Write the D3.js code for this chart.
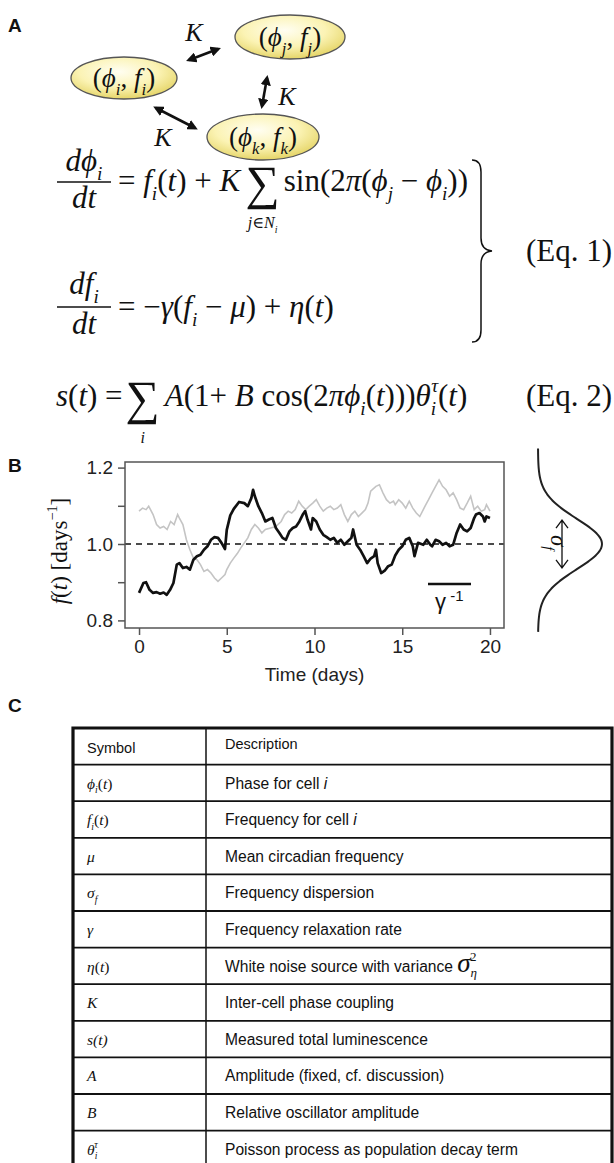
<!DOCTYPE html>
<html>
<head>
<meta charset="utf-8">
<script src="https://cdn.jsdelivr.net/npm/d3@7"></script>
<style>
  body { margin: 0; background: #fff; }
  svg { display: block; }
</style>
</head>
<body>
<svg id="fig" width="614" height="1163"></svg>
<script>
const width = 614
const height = 1163

const serif = "'Liberation Serif','Times New Roman','DejaVu Serif',serif"
const sans = "'Liberation Sans',Arial,Helvetica,sans-serif"

// panel B data (time in days, frequency in days^-1)
const blackSeries = [
  [0,0.872],[0.25,0.898],[0.4,0.9],[0.6,0.88],[0.8,0.872],[1.0,0.874],[1.2,0.87],[1.4,0.873],[1.58,0.867],
  [1.77,0.88],[1.96,0.898],[2.15,0.946],[2.3,0.95],[2.5,0.937],[2.7,0.94],[2.9,0.933],[3.1,0.959],
  [3.3,0.968],[3.5,0.972],[3.7,0.985],[3.9,0.994],[4.1,1.011],[4.3,1.018],[4.5,1.016],[4.7,1.003],
  [4.9,0.987],[5.0,1.037],[5.2,1.075],[5.4,1.092],[5.7,1.11],[6.0,1.107],[6.2,1.099],[6.4,1.12],
  [6.5,1.142],[6.6,1.125],[6.8,1.099],[7.0,1.081],[7.2,1.059],[7.4,1.064],[7.6,1.068],[7.8,1.042],
  [8.0,1.029],[8.18,1.016],[8.37,1.011],[8.57,1.033],[8.76,1.042],[8.95,1.046],[9.14,1.059],
  [9.33,1.077],[9.47,1.086],[9.6,1.064],[9.8,1.038],[9.9,1.068],[10.1,1.059],[10.3,1.038],
  [10.5,1.024],[10.7,1.018],[10.9,1.011],[11.1,1.016],[11.3,1.003],[11.5,1.011],[11.7,0.998],
  [11.9,1.007],[12.1,1.016],[12.2,1.038],[12.4,0.998],[12.6,0.985],[12.8,0.968],[13.0,0.95],
  [13.2,0.962],[13.4,0.968],[13.5,0.985],[13.6,0.95],[13.8,0.924],[14.0,0.93],[14.2,0.942],
  [14.4,0.946],[14.6,0.97],[14.8,0.985],[15.0,0.994],[15.2,1.011],[15.4,1.016],[15.6,0.994],
  [15.7,0.968],[15.9,1.003],[16.2,0.998],[16.4,1.011],[16.6,0.998],[16.7,0.994],[16.9,1.011],
  [17.1,1.007],[17.3,0.998],[17.5,1.003],[17.7,0.994],[17.9,0.998],[18.1,1.029],[18.3,1.051],
  [18.5,1.038],[18.7,1.033],[18.9,1.042],[19.1,1.068],[19.2,1.077],[19.4,1.081],[19.6,1.072],
  [19.7,1.059],[19.8,1.072],[20.0,1.068]
]

const graySeries = [
  [0,1.086],[0.2,1.094],[0.4,1.09],[0.55,1.099],[0.8,1.077],[1.0,1.051],[1.2,1.042],[1.4,1.046],
  [1.6,1.038],[1.8,1.059],[2.0,1.051],[2.2,1.077],[2.3,1.068],[2.5,1.051],[2.7,1.011],[2.9,0.985],
  [3.1,0.963],[3.3,0.959],[3.5,0.946],[3.7,0.928],[3.9,0.933],[4.1,0.924],[4.3,0.911],[4.5,0.902],
  [4.7,0.911],[4.9,0.92],[5.0,0.933],[5.2,0.95],[5.4,0.963],[5.6,0.975],[5.8,0.99],[6.0,1.003],
  [6.2,1.016],[6.4,1.038],[6.6,1.051],[6.8,1.042],[7.0,1.029],[7.2,1.038],[7.5,1.042],[7.8,1.046],
  [8.1,1.059],[8.3,1.077],[8.5,1.086],[8.7,1.081],[8.9,1.09],[9.1,1.112],[9.3,1.099],[9.5,1.09],
  [9.7,1.099],[9.9,1.107],[10.1,1.116],[10.3,1.099],[10.5,1.086],[10.7,1.094],[10.9,1.099],
  [11.1,1.09],[11.3,1.094],[11.5,1.103],[11.7,1.077],[11.9,1.059],[12.1,1.077],[12.3,1.086],
  [12.5,1.072],[12.7,1.081],[12.9,1.09],[13.05,1.107],[13.2,1.138],[13.5,1.151],[13.7,1.155],
  [13.9,1.134],[14.1,1.116],[14.3,1.107],[14.5,1.112],[14.6,1.103],[14.8,1.116],[15.0,1.107],
  [15.2,1.094],[15.4,1.112],[15.6,1.094],[15.8,1.081],[16.0,1.072],[16.2,1.09],[16.3,1.099],
  [16.5,1.116],[16.7,1.134],[16.9,1.151],[17.1,1.168],[17.3,1.151],[17.5,1.142],[17.7,1.125],
  [17.9,1.134],[18.1,1.116],[18.3,1.094],[18.5,1.09],[18.7,1.107],[18.9,1.125],[19.1,1.09],
  [19.3,1.099],[19.5,1.086],[19.7,1.09],[19.8,1.103],[20.0,1.086]
]

const xTicks = [0, 5, 10, 15, 20]
const yTicks = [0.8, 0.9, 1.0, 1.1, 1.2]
const yTickLabels = [0.8, 1.0, 1.2]

// schematic distribution on the right of panel B
const gaussMu = 1.0
const gaussSigma = 0.066
const gaussRange = [0.77, 1.25]

// panel C table
const tableHeader = ["Symbol", "Description"]
const tableSymbols = [
  [["ϕ","i"],["i","ib"],["(",""],["t","i"],[")",""]],
  [["f","i"],["i","ib"],["(",""],["t","i"],[")",""]],
  [["μ","i"]],
  [["σ","i"],["f","ib"]],
  [["γ","i"]],
  [["η","i"],["(",""],["t","i"],[")",""]],
  [["K","i"]],
  [["s(t)","i"]],
  [["A","i"]],
  [["B","i"]],
  [["θ","i"],["i","ib"],["τ","ip",{dx:-3}]]
]
const tableDescriptions = [
  [["Phase for cell ",""],["i","i"]],
  [["Frequency for cell ",""],["i","i"]],
  [["Mean circadian frequency",""]],
  [["Frequency dispersion",""]],
  [["Frequency relaxation rate",""]],
  [["White noise source with variance  ",""],["σ","si",{size:27}],["η","si",{size:13,shift:5}],["2","s",{size:13,shift:-11,dx:-7}]],
  [["Inter-cell phase coupling",""]],
  [["Measured total luminescence",""]],
  [["Amplitude (fixed, cf. discussion)",""]],
  [["Relative oscillator amplitude",""]],
  [["Poisson process as population decay term",""]]
]

const svg = d3.select("#fig")

// text with italic / sub / sup pieces; flags: i italic, b sub, p sup, s serif
function mtext(sel, x, y, size, parts, opts = {}) {
  const t = sel.append("text")
    .attr("x", x).attr("y", y)
    .attr("font-family", opts.family || serif)
    .attr("font-size", size)
    .attr("text-anchor", opts.anchor || "start")
    .attr("fill", opts.fill || "#111")
  let shift = 0
  parts.forEach(([str, f = "", extra = {}]) => {
    let target = 0, fs = size
    if (f.includes("b")) { target = size * 0.3; fs = size * 0.62 }
    if (f.includes("p")) { target = -size * 0.45; fs = size * 0.62 }
    if (extra.shift !== undefined) target = extra.shift
    const s = t.append("tspan").text(str)
      .attr("dy", target - shift)
      .attr("font-size", extra.size || fs)
    if (f.includes("i")) s.attr("font-style", "italic")
    if (f.includes("s")) s.attr("font-family", serif)
    if (extra.dx) s.attr("dx", extra.dx)
    shift = target
  })
  return t
}

function label(txt, x, y) {
  svg.append("text").attr("x", x).attr("y", y)
    .attr("font-family", sans).attr("font-weight", "bold")
    .attr("font-size", 19).attr("fill", "#111").text(txt)
}

// ---------- panel A ----------
label("A", 8, 32)

const defs = svg.append("defs")
const grad = defs.append("radialGradient").attr("id", "cellFill")
  .attr("cx", "45%").attr("cy", "35%").attr("r", "68%")
grad.append("stop").attr("offset", "0%").attr("stop-color", "#fffef2")
grad.append("stop").attr("offset", "55%").attr("stop-color", "#fbf3b4")
grad.append("stop").attr("offset", "100%").attr("stop-color", "#e3d260")

defs.append("marker").attr("id", "head")
  .attr("viewBox", "0 0 10 10").attr("refX", 7).attr("refY", 5)
  .attr("markerWidth", 4).attr("markerHeight", 4)
  .attr("orient", "auto-start-reverse")
  .append("path").attr("d", "M0,0 L10,5 L0,10 z").attr("fill", "#111")

const cells = [
  {cx: 124, cy: 78, rx: 53, ry: 21, s: "i"},
  {cx: 290, cy: 37, rx: 55, ry: 22, s: "j"},
  {cx: 263, cy: 137, rx: 56, ry: 23, s: "k"}
]
cells.forEach(c => {
  svg.append("ellipse").attr("cx", c.cx).attr("cy", c.cy)
    .attr("rx", c.rx).attr("ry", c.ry)
    .attr("fill", "url(#cellFill)").attr("stroke", "#555").attr("stroke-width", 1.3)
  mtext(svg, c.cx, c.cy + 9, 27,
    [["(",""],["ϕ","i"],[c.s,"ib"],[", ",""],["f","i"],[c.s,"ib"],[")",""]],
    {anchor: "middle"})
})

const links = [
  {x1: 189, y1: 60, x2: 218, y2: 49, kx: 194, ky: 41},
  {x1: 267, y1: 78, x2: 262, y2: 106, kx: 287, ky: 105},
  {x1: 156, y1: 108, x2: 195, y2: 128, kx: 163, ky: 146}
]
links.forEach(l => {
  svg.append("line").attr("x1", l.x1).attr("y1", l.y1).attr("x2", l.x2).attr("y2", l.y2)
    .attr("stroke", "#111").attr("stroke-width", 2.6)
    .attr("marker-start", "url(#head)").attr("marker-end", "url(#head)")
  mtext(svg, l.kx, l.ky, 26, [["K","i"]], {anchor: "middle"})
})

// ---------- equations ----------
const eqSize = 31

function fraction(cx, yNum, yBar, yDen, num, den, w) {
  mtext(svg, cx, yNum, eqSize, num, {anchor: "middle"})
  svg.append("line").attr("x1", cx - w / 2).attr("x2", cx + w / 2)
    .attr("y1", yBar).attr("y2", yBar).attr("stroke", "#111").attr("stroke-width", 1.6)
  mtext(svg, cx, yDen, eqSize, den, {anchor: "middle"})
}

function bigSum(x, y, under) {
  const s = svg.append("text").attr("x", x).attr("y", y + 8)
    .attr("font-family", serif).attr("font-size", eqSize * 1.55).attr("fill", "#111").text("∑")
  const w = s.node().getBBox().width
  mtext(svg, x + w / 2, y + 37, 16, under, {anchor: "middle"})
  return w
}

// Eq. 1, first line
fraction(84, 171, 182, 208, [["d","i"],["ϕ","i"],["i","ib"]], [["dt","i"]], 54)
let ex = 118
let t1 = mtext(svg, ex, 191, eqSize,
  [["= ",""],["f","i"],["i","ib"],["(",""],["t","i"],[") + ",""],["K","i"]])
ex += t1.node().getBBox().width + 3
ex += bigSum(ex, 191, [["j","i"],["∈",""],["N","i"],["i","ib"]]) + 4
mtext(svg, ex, 191, eqSize,
  [["sin(2",""],["π","i"],["(",""],["ϕ","i"],["j","ib"],[" − ",""],["ϕ","i"],["i","ib"],["))",""]])

// Eq. 1, second line
fraction(84, 294, 307, 334, [["df","i"],["i","ib"]], [["dt","i"]], 54)
mtext(svg, 118, 317, eqSize,
  [["= −",""],["γ","i"],["(",""],["f","i"],["i","ib"],[" − ",""],["μ","i"],[") + ",""],["η","i"],["(",""],["t","i"],[")",""]])

// brace and label
svg.append("path")
  .attr("d", "M472,160 Q481,160 481,172 L481,238 Q481,250 492,251 Q481,252 481,264 L481,330 Q481,342 472,342")
  .attr("fill", "none").attr("stroke", "#111").attr("stroke-width", 1.5)
mtext(svg, 612, 261, eqSize, [["(Eq. 1)",""]], {anchor: "end"})

// Eq. 2
ex = 56
let t2 = mtext(svg, ex, 406, eqSize, [["s","i"],["(",""],["t","i"],[") = ",""]])
ex += t2.node().getBBox().width + 3
ex += bigSum(ex, 406, [["i","i"]]) + 5
mtext(svg, ex, 406, eqSize,
  [["A","i"],["(1+ ",""],["B","i"],[" cos(2",""],["π","i"],["ϕ","i"],["i","ib"],["(",""],["t","i"],[")))",""],
   ["θ","i"],["i","ib"],["τ","ip",{dx:-5}],["(",""],["t","i"],[")",""]])
mtext(svg, 612, 406, eqSize, [["(Eq. 2)",""]], {anchor: "end"})

// ---------- panel B ----------
label("B", 8, 472)

const frame = {left: 125, right: 504, top: 462, bottom: 628}
const x = d3.scaleLinear().domain([-0.8, 20.8]).range([frame.left, frame.right])
const y = d3.scaleLinear().domain([1.0, 1.2]).range([544, 467.6])

const plot = svg.append("g")

plot.append("line")
  .attr("x1", frame.left).attr("x2", frame.right)
  .attr("y1", y(1.0)).attr("y2", y(1.0))
  .attr("stroke", "#111").attr("stroke-width", 1.5).attr("stroke-dasharray", "6,5")

const line = d3.line().x(d => x(d[0])).y(d => y(d[1]))

plot.append("path").datum(graySeries).attr("d", line)
  .attr("fill", "none").attr("stroke", "#c4c4c4").attr("stroke-width", 1.6)
plot.append("path").datum(blackSeries).attr("d", line)
  .attr("fill", "none").attr("stroke", "#111").attr("stroke-width", 2.7).attr("stroke-linejoin", "round")

plot.append("rect")
  .attr("x", frame.left).attr("y", frame.top)
  .attr("width", frame.right - frame.left).attr("height", frame.bottom - frame.top)
  .attr("fill", "none").attr("stroke", "#555").attr("stroke-width", 1.5)

const yAxis = plot.append("g").attr("transform", `translate(${frame.left},0)`)
  .call(d3.axisLeft(y).tickValues(yTicks).tickSize(7).tickPadding(5)
    .tickFormat(d => yTickLabels.some(v => Math.abs(v - d) < 1e-9) ? d3.format(".1f")(d) : ""))
const xAxis = plot.append("g").attr("transform", `translate(0,${frame.bottom})`)
  .call(d3.axisBottom(x).tickValues(xTicks).tickSize(7).tickPadding(5))

;[yAxis, xAxis].forEach(a => {
  a.select(".domain").remove()
  a.selectAll(".tick line").attr("stroke", "#555").attr("stroke-width", 1.5)
  a.selectAll(".tick text").attr("font-family", sans).attr("font-size", 19).attr("fill", "#222")
})

svg.append("text").attr("x", (frame.left + frame.right) / 2).attr("y", 681)
  .attr("text-anchor", "middle").attr("font-family", sans).attr("font-size", 19)
  .attr("fill", "#222").text("Time (days)")

const yLab = svg.append("g").attr("transform", "translate(67,551) rotate(-90)")
mtext(yLab, 0, 0, 23, [["f","i"],["(",""],["t","i"],[")   [days",""],["−1","p"],["]",""]], {anchor: "middle"})

// relaxation time scale bar
plot.append("line").attr("x1", 428).attr("x2", 471).attr("y1", 584).attr("y2", 584)
  .attr("stroke", "#111").attr("stroke-width", 2.5)
mtext(plot, 435, 609, 22, [["γ",""],[" -1","",{size:15,shift:-8}]], {family: sans})

// distribution sketch
const gx = d3.scaleLinear().domain([0, 1]).range([538, 602])
const gaussPts = d3.range(gaussRange[0], gaussRange[1] + 0.001, 0.004)
  .map(f => [gx(Math.exp(-((f - gaussMu) ** 2) / (2 * gaussSigma ** 2))), y(f)])
svg.append("path").datum(gaussPts).attr("d", d3.line().curve(d3.curveBasis))
  .attr("fill", "none").attr("stroke", "#222").attr("stroke-width", 2)

const ay1 = y(gaussMu + gaussSigma * 0.95), ay2 = y(gaussMu - gaussSigma * 0.95)
svg.append("path")
  .attr("d", `M562,${ay1} L562,${ay2} M556,${ay1 + 8} L562,${ay1} L568,${ay1 + 8} M556,${ay2 - 8} L562,${ay2} L568,${ay2 - 8}`)
  .attr("fill", "none").attr("stroke", "#111").attr("stroke-width", 1.3)
const sigLab = svg.append("g").attr("transform", "translate(551,535) rotate(90)")
mtext(sigLab, 0, 0, 23, [["σ","i"],["f","ib"]])

// ---------- panel C ----------
label("C", 8, 712)

const tbl = {left: 73, mid: 206, right: 612, top: 728, rowH: 36.6}
const nRows = tableSymbols.length + 1
const rowsY = d3.range(nRows + 1).map(i => tbl.top + i * tbl.rowH)

const table = svg.append("g")
table.selectAll("line.row").data(rowsY.slice(1)).join("line")
  .attr("x1", tbl.left).attr("x2", tbl.right).attr("y1", d => d).attr("y2", d => d)
  .attr("stroke", "#111").attr("stroke-width", 1.8)
table.append("line").attr("x1", tbl.mid).attr("x2", tbl.mid)
  .attr("y1", tbl.top).attr("y2", height).attr("stroke", "#111").attr("stroke-width", 1.5)
table.append("path")
  .attr("d", `M${tbl.left},${height} L${tbl.left},${tbl.top} L${tbl.right},${tbl.top} L${tbl.right},${height}`)
  .attr("fill", "none").attr("stroke", "#111").attr("stroke-width", 3.2)

table.append("text").attr("x", 87).attr("y", tbl.top + 25)
  .attr("font-family", sans).attr("font-size", 14.5).attr("fill", "#111").text(tableHeader[0])
table.append("text").attr("x", 225).attr("y", tbl.top + 21)
  .attr("font-family", sans).attr("font-size", 14.5).attr("fill", "#111").text(tableHeader[1])

tableSymbols.forEach((sym, i) => {
  const base = tbl.top + (i + 1) * tbl.rowH + 24
  mtext(table, 87, base, 15.5, sym)
  mtext(table, 225, base, 15.6, tableDescriptions[i], {family: sans})
})
</script>
</body>
</html>
